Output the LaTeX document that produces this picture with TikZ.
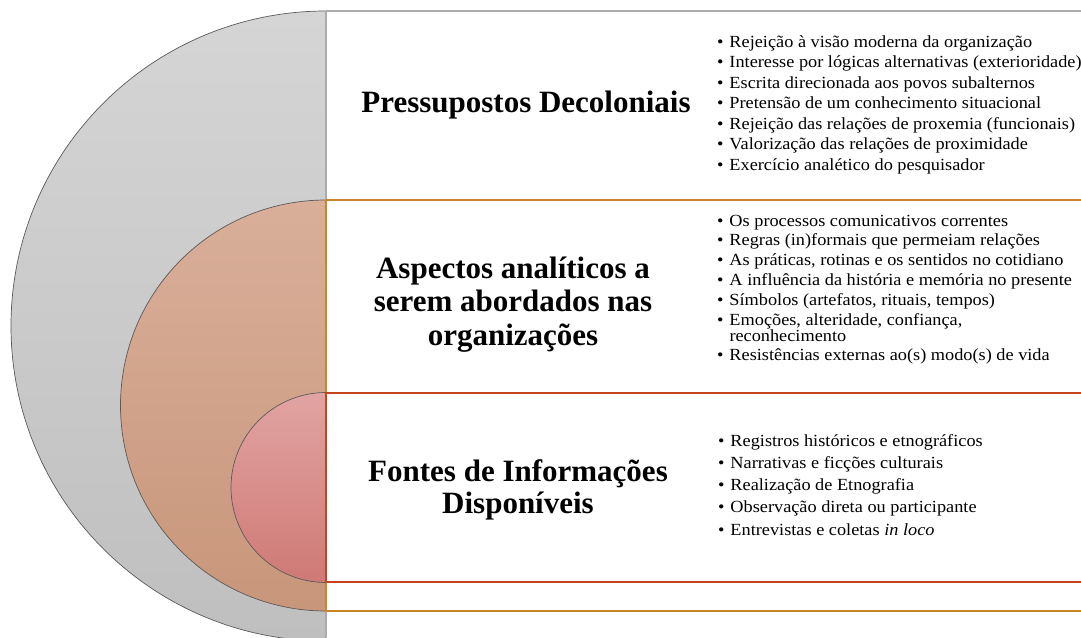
\documentclass[tikz,border=0pt]{standalone}
\usepackage{fontspec}
\setmainfont{Liberation Serif}
\newfontfamily\bodyfont[FakeStretch=1.075]{Liberation Serif}
\definecolor{grayTop}{HTML}{D5D5D5}
\definecolor{grayBot}{HTML}{BFBFBF}
\definecolor{orTop}{HTML}{D9AF9A}
\definecolor{orBot}{HTML}{C8967A}
\definecolor{rdTop}{HTML}{E1A4A2}
\definecolor{rdBot}{HTML}{CF7975}
\definecolor{edge}{HTML}{5A5A5A}
\definecolor{grayLine}{HTML}{ABABAB}
\definecolor{orLine}{HTML}{C98628}
\definecolor{rdLine}{HTML}{C4431C}
\newcommand{\bitem}[1]{\par\noindent\hangindent=12.5pt\hangafter=1\makebox[12.5pt][l]{•}#1}
\tikzset{
  halfdisk/.style={draw=edge, line width=0.7pt},
  rowline/.style={line width=1.1pt},
  txt/.style={inner sep=0pt, outer sep=0pt},
}
\begin{document}
\begin{tikzpicture}[x=1pt, y=-1pt]
\useasboundingbox (0,0) rectangle (1081,637);
\clip (0,0) rectangle (1081,637);
\fill[white] (0,0) rectangle (1081,637);
% half disks
\path[halfdisk, top color=grayTop, bottom color=grayBot] (326,641) arc[start angle=90, end angle=270, radius=315] -- cycle;
\path[halfdisk, top color=orTop, bottom color=orBot] (326,611) arc[start angle=90, end angle=270, radius=205.5] -- cycle;
\path[halfdisk, top color=rdTop, bottom color=rdBot] (326,582.5) arc[start angle=90, end angle=270, radius=95] -- cycle;
% row lines
\draw[rowline, grayLine] (326,11) -- (1081,11);
\draw[rowline, grayLine] (326,11) -- (326,637);
\draw[rowline, orLine] (1081,200) -- (326,200) -- (326,611) -- (1081,611);
\draw[rowline, rdLine] (1081,393) -- (326,393) -- (326,582) -- (1081,582);
% titles
\node[txt, anchor=base] (t1) at (526,112) {\parbox[t]{360pt}{\centering\fontsize{31}{33.5}\selectfont\bfseries Pressupostos Decoloniais}};
\node[txt, anchor=base] (t2) at (513,278) {\parbox[t]{360pt}{\centering\fontsize{31}{33.5}\selectfont\bfseries Aspectos analíticos a\\ serem abordados nas\\ organizações}};
\node[txt, anchor=base] (t3) at (518,481) {\parbox[t]{360pt}{\centering\fontsize{31}{32}\selectfont\bfseries Fontes de Informações\\ Disponíveis}};
% bullet lists
\node[txt, anchor=base west] (l1) at (717,47) {\parbox[t]{420pt}{\fontsize{17}{16.5}\bodyfont\raggedright\setlength{\parskip}{4pt}%
\bitem{Rejeição à visão moderna da organização}
\bitem{Interesse por lógicas alternativas (exterioridade)}
\bitem{Escrita direcionada aos povos subalternos}
\bitem{Pretensão de um conhecimento situacional}
\bitem{Rejeição das relações de proxemia (funcionais)}
\bitem{Valorização das relações de proximidade}
\bitem{Exercício analético do pesquisador}}};
\node[txt, anchor=base west] (l2) at (717,226) {\parbox[t]{420pt}{\fontsize{17}{16}\bodyfont\raggedright\setlength{\parskip}{3.8pt}%
\bitem{Os processos comunicativos correntes}
\bitem{Regras (in)formais que permeiam relações}
\bitem{As práticas, rotinas e os sentidos no cotidiano}
\bitem{A influência da história e memória no presente}
\bitem{Símbolos (artefatos, rituais, tempos)}
\bitem{Emoções, alteridade, confiança,\hfil\break reconhecimento}
\bitem{Resistências externas ao(s) modo(s) de vida}}};
\node[txt, anchor=base west] (l3) at (718,446) {\parbox[t]{420pt}{\fontsize{17}{22.3}\bodyfont\raggedright\setlength{\parskip}{0pt}%
\bitem{Registros históricos e etnográficos}
\bitem{Narrativas e ficções culturais}
\bitem{Realização de Etnografia}
\bitem{Observação direta ou participante}
\bitem{Entrevistas e coletas \textit{in loco}}}};
\end{tikzpicture}
\end{document}
